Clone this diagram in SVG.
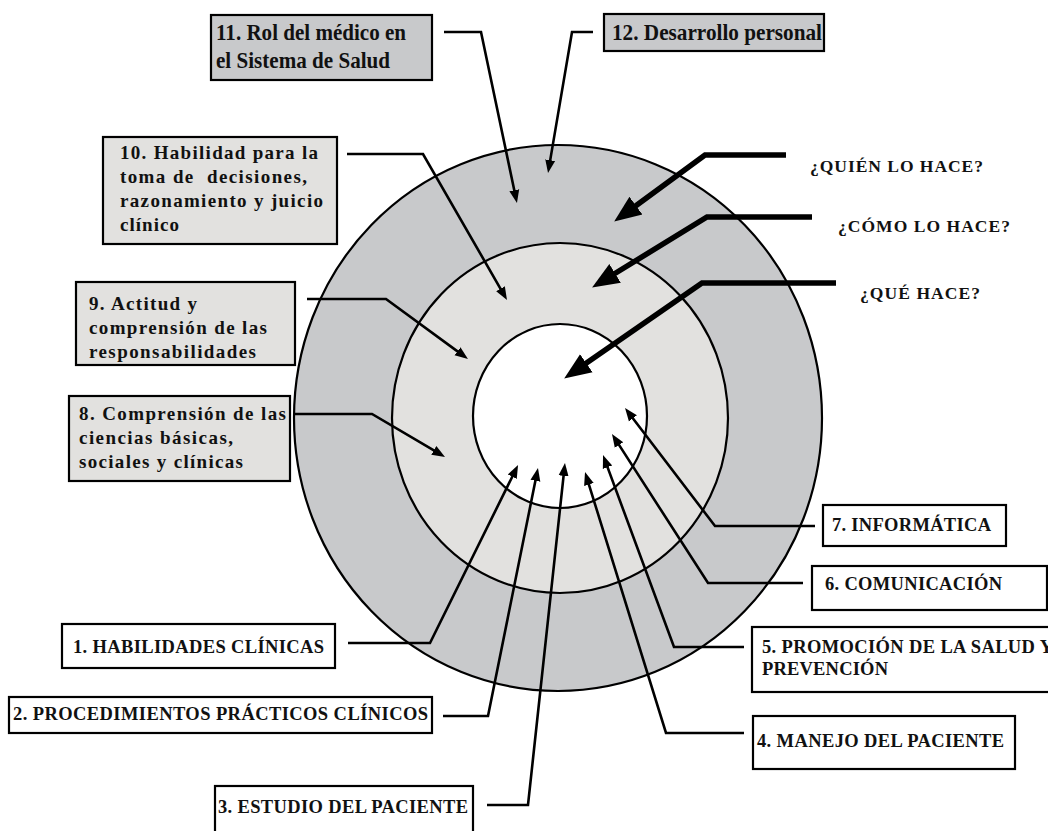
<svg xmlns="http://www.w3.org/2000/svg" width="1048" height="831" viewBox="0 0 1048 831">
<style>
.box{stroke:#000;stroke-width:2.2}
.dark{fill:#c8c9cb}
.light{fill:#e2e1df}
.white{fill:#fff}
.t{font-family:"Liberation Serif","Times New Roman",serif;font-weight:bold;fill:#111}
.t11{font-size:23px}
.tl{font-size:19px}
.tc{font-size:18.5px}
.tq{font-size:17.5px}
.ring{stroke:#000;stroke-width:2.2}
.thin{fill:none;stroke:#000;stroke-width:2.6;marker-end:url(#ah)}
.thick{fill:none;stroke:#000;stroke-width:5.5;marker-end:url(#ahb)}
</style>
<defs>
<marker id="ah" markerUnits="userSpaceOnUse" viewBox="0 -6 14 12" markerWidth="14" markerHeight="12" refX="3" refY="0" orient="auto">
<path d="M0,-5 L13,0 L0,5 z" fill="#000"/>
</marker>
<marker id="ahb" markerUnits="userSpaceOnUse" viewBox="0 -12 28 24" markerWidth="28" markerHeight="24" refX="6" refY="0" orient="auto">
<path d="M0,-11 L27,0 L0,11 z" fill="#000"/>
</marker>
</defs>
<rect width="1048" height="831" fill="#fff"/>
<g id="rings">
<ellipse class="ring dark" cx="558" cy="418" rx="264" ry="273"/>
<ellipse class="ring light" cx="560" cy="418" rx="168" ry="175"/>
<ellipse class="ring white" cx="560" cy="416" rx="87" ry="92"/>
</g>
<g id="connectors">
<polyline class="thin" points="444,32 481,32 514.9,193.2"/>
<polyline class="thin" points="593,32 572,32 549.7,163.1"/>
<polyline class="thin" points="347,154 423,154 502,291.3"/>
<polyline class="thin" points="307,299 386,299 459.9,353.1"/>
<polyline class="thin" points="295,414 372,414 436.4,451.9"/>
<polyline class="thin" points="348,643 430,643 513.6,474"/>
<polyline class="thin" points="443,716 488,716 536,477.8"/>
<polyline class="thin" points="487,805 528,805 563.9,472.9"/>
<polyline class="thin" points="744,733 666,733 588,481.6"/>
<polyline class="thin" points="744,647 674,647 606.5,464.4"/>
<polyline class="thin" points="803,583 708,583 617.4,442.4"/>
<polyline class="thin" points="815,526 715,526 631.1,416"/>
<polyline class="thick" points="786,155 705,155 631.1,209.2"/>
<polyline class="thick" points="812,217 707,217 610,276.5"/>
<polyline class="thick" points="836,283 702,283 581.4,366.6"/>
</g>
<g id="node11">
<rect class="box dark" x="211" y="15" width="221" height="65"/>
<text class="t t11" x="216" y="40" textLength="190" lengthAdjust="spacingAndGlyphs">11. Rol del médico en</text>
<text class="t t11" x="216" y="68" textLength="174" lengthAdjust="spacingAndGlyphs">el Sistema de Salud</text>
</g>
<g id="node12">
<rect class="box dark" x="604" y="14" width="220" height="37"/>
<text class="t t11" x="612" y="40" textLength="210" lengthAdjust="spacingAndGlyphs">12. Desarrollo personal</text>
</g>
<g id="node10">
<rect class="box light" x="103" y="137" width="234" height="107"/>
<text class="t tl" x="120" y="159" textLength="198" lengthAdjust="spacing">10. Habilidad para la</text>
<text class="t tl" x="120" y="183" textLength="187" lengthAdjust="spacing" xml:space="preserve">toma de  decisiones,</text>
<text class="t tl" x="120" y="207" textLength="203" lengthAdjust="spacing">razonamiento y juicio</text>
<text class="t tl" x="120" y="231" textLength="59" lengthAdjust="spacing">clínico</text>
</g>
<g id="node9">
<rect class="box light" x="76" y="282" width="219" height="83"/>
<text class="t tl" x="89" y="310" textLength="108" lengthAdjust="spacing">9. Actitud y</text>
<text class="t tl" x="89" y="334" textLength="178" lengthAdjust="spacing">comprensión de las</text>
<text class="t tl" x="89" y="358" textLength="167" lengthAdjust="spacing">responsabilidades</text>
</g>
<g id="node8">
<rect class="box light" x="69" y="396" width="221" height="85"/>
<text class="t tl" x="79" y="420" textLength="207" lengthAdjust="spacing">8. Comprensión de las</text>
<text class="t tl" x="79" y="444" textLength="154" lengthAdjust="spacing">ciencias básicas,</text>
<text class="t tl" x="79" y="468" textLength="164" lengthAdjust="spacing">sociales y clínicas</text>
</g>
<g id="quien">
<text class="t tq" x="810" y="172" textLength="173" lengthAdjust="spacing">¿QUIÉN LO HACE?</text>
</g>
<g id="como">
<text class="t tq" x="838" y="232" textLength="172" lengthAdjust="spacing">¿CÓMO LO HACE?</text>
</g>
<g id="que">
<text class="t tq" x="860" y="299" textLength="120" lengthAdjust="spacing">¿QUÉ HACE?</text>
</g>
<g id="node7">
<rect class="box white" x="823" y="505" width="183" height="41"/>
<text class="t tc" x="832" y="531" textLength="159" lengthAdjust="spacing">7. INFORMÁTICA</text>
</g>
<g id="node6">
<rect class="box white" x="812" y="566" width="235" height="44"/>
<text class="t tc" x="825" y="590" textLength="177" lengthAdjust="spacing">6. COMUNICACIÓN</text>
</g>
<g id="node5">
<rect class="box white" x="752" y="627" width="300" height="65"/>
<text class="t tc" x="762" y="653" textLength="291" lengthAdjust="spacing">5. PROMOCIÓN DE LA SALUD Y</text>
<text class="t tc" x="762" y="675" textLength="126" lengthAdjust="spacing">PREVENCIÓN</text>
</g>
<g id="node4">
<rect class="box white" x="753" y="716" width="262" height="53"/>
<text class="t tc" x="757" y="747" textLength="247" lengthAdjust="spacing">4. MANEJO DEL PACIENTE</text>
</g>
<g id="node1">
<rect class="box white" x="62" y="624" width="273" height="44"/>
<text class="t tc" x="73" y="653" textLength="251" lengthAdjust="spacing">1. HABILIDADES CLÍNICAS</text>
</g>
<g id="node2">
<rect class="box white" x="9" y="697" width="423" height="36"/>
<text class="t tc" x="13" y="720" textLength="415" lengthAdjust="spacing">2. PROCEDIMIENTOS PRÁCTICOS CLÍNICOS</text>
</g>
<g id="node3">
<rect class="box white" x="215" y="786" width="258" height="50"/>
<text class="t tc" x="218" y="813" textLength="250" lengthAdjust="spacing">3. ESTUDIO DEL PACIENTE</text>
</g>
</svg>
